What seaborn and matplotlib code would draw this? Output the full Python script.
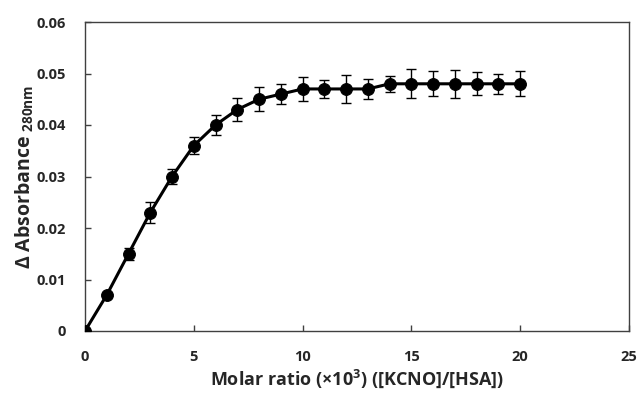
import matplotlib
matplotlib.use("Agg")
import matplotlib.pyplot as plt
import seaborn as sns
import pandas as pd

ratio = [0, 1, 2, 3, 4, 5, 6, 7, 8, 9, 10, 11, 12, 13, 14, 15, 16, 17, 18, 19, 20]
absorbance = [0.0, 0.007, 0.015, 0.023, 0.030, 0.036, 0.040, 0.043, 0.045, 0.046,
              0.047, 0.047, 0.047, 0.047, 0.048, 0.048, 0.048, 0.048, 0.048, 0.048, 0.048]
err = [0.0, 0.0004, 0.0012, 0.002, 0.0015, 0.0017, 0.002, 0.0022, 0.0023, 0.0019,
       0.0023, 0.0017, 0.0027, 0.0019, 0.0015, 0.0028, 0.0024, 0.0027, 0.0022, 0.0020, 0.0024]
xticks = [0, 5, 10, 15, 20, 25]
yticks = [0, 0.01, 0.02, 0.03, 0.04, 0.05, 0.06]
ytick_labels = ["0", "0.01", "0.02", "0.03", "0.04", "0.05", "0.06"]

FONT = 'Open Sans'
sns.set_style("white")
plt.rcParams['font.family'] = [FONT, 'DejaVu Sans']
plt.rcParams['font.weight'] = 'bold'
plt.rcParams['mathtext.fontset'] = 'custom'
plt.rcParams['mathtext.rm'] = FONT + ':bold'
plt.rcParams['mathtext.it'] = FONT + ':bold'
plt.rcParams['mathtext.bf'] = FONT + ':bold'
plt.rcParams['mathtext.default'] = 'bf'

df = pd.DataFrame({"ratio": ratio, "abs": absorbance})

fig = plt.figure(figsize=(6.41, 3.93), dpi=100)
ax = fig.add_axes([85/641, 62/393, 544/641, 309/393])

ax.errorbar(ratio, absorbance, yerr=err, fmt='none', ecolor='black',
            elinewidth=1.0, capsize=3.5, capthick=1.0, zorder=2)
sns.lineplot(data=df, x="ratio", y="abs", ax=ax, color='black', linewidth=2.2,
             marker='o', markersize=8.5, markeredgecolor='black',
             markerfacecolor='black', zorder=3)

ax.set_xlim(0, 25)
ax.set_ylim(0, 0.06)
ax.set_xticks(xticks)
ax.set_yticks(yticks)
ax.set_yticklabels(ytick_labels)
for lab in ax.get_xticklabels() + ax.get_yticklabels():
    lab.set_fontweight('bold')
    lab.set_fontsize(10.5)
ax.tick_params(axis='both', direction='in', length=4, width=1, color='#404040')
ax.tick_params(axis='x', pad=14, bottom=True)
ax.tick_params(axis='y', pad=14, left=True)

for s in ax.spines.values():
    s.set_color('#404040')
    s.set_linewidth(1.0)

ax.set_xlabel(r"Molar ratio (×10$^{3}$) ([KCNO]/[HSA])", fontsize=13,
              fontweight='bold', labelpad=2)
ax.set_ylabel(r"Δ Absorbance$_{\ 280nm}$", fontsize=14, fontweight='bold',
              labelpad=0)

fig.savefig("out.png", dpi=100)
